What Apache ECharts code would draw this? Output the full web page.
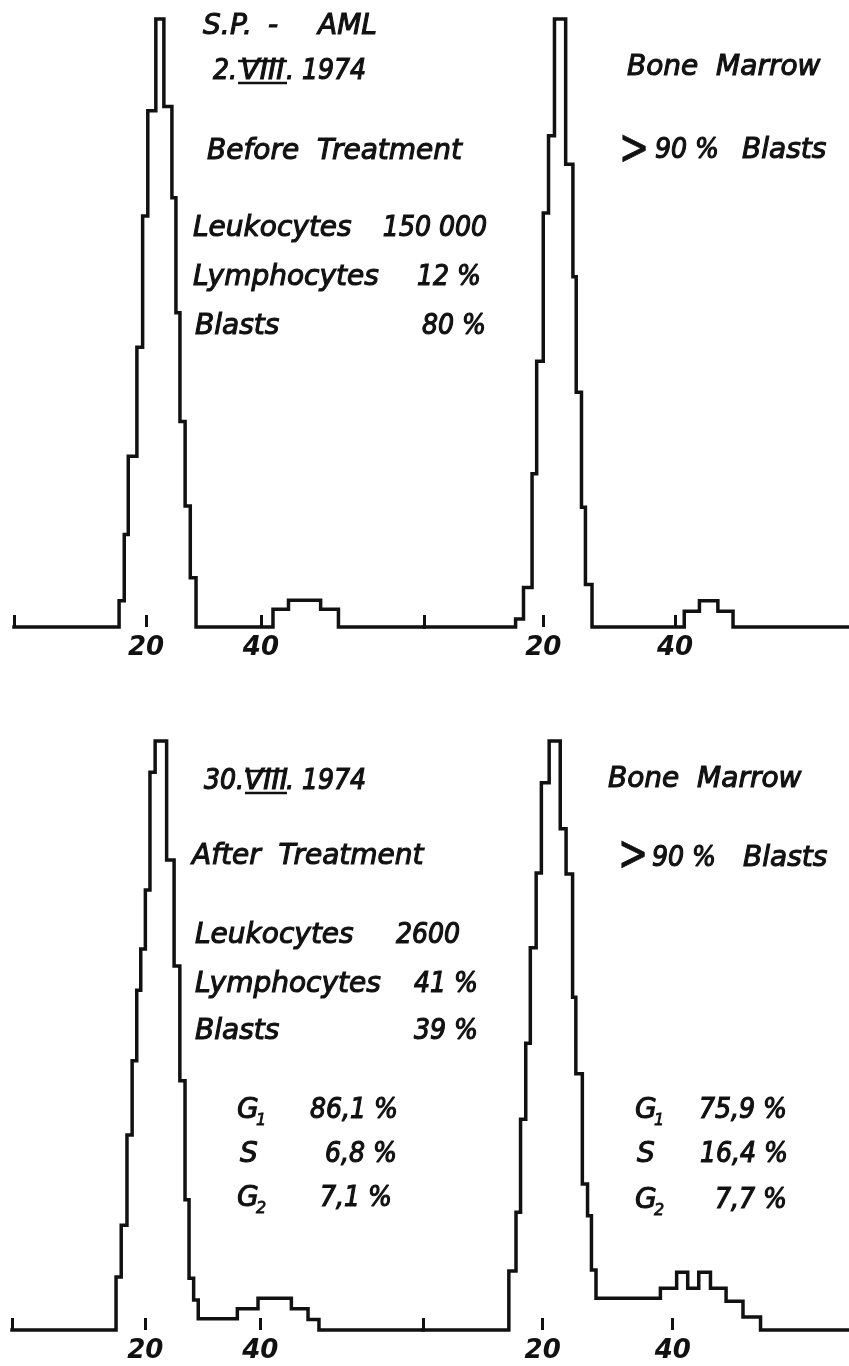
<!DOCTYPE html>
<html>
<head>
<meta charset="utf-8">
<script src="https://cdn.jsdelivr.net/npm/echarts@6/dist/echarts.min.js"></script>
<style>
  html, body { margin: 0; padding: 0; background: #fff; }
  #chart { width: 849px; height: 1366px; }
</style>
</head>
<body>
<div id="chart"></div>
<script>
// DNA histograms, channel number on x, relative cell count (peak = 100) on y.
// each histogram: step edges (channel) and the count of the step that starts at that edge
const tickLabels = [20, 40];

// blood, before treatment (top left)
const bloodBeforeEdges = [-3, 15.3, 16.2, 16.9, 18.4, 19.4, 20.3, 21.7, 23.1, 24.5, 25.2, 25.9, 26.8, 27.7, 28.7, 42.1, 44.8, 50.4, 53.5, 68.4];
const bloodBeforeCounts = [0, 4.3, 15.2, 28.1, 46.0, 67.6, 84.9, 100, 85.6, 70.6, 51.7, 33.8, 19.9, 8.1, 0, 2.9, 4.4, 2.9, 0];

// bone marrow, before treatment (top right)
const marrowBeforeEdges = [1.9, 15.8, 17.0, 18.3, 19.0, 20.0, 20.8, 21.7, 23.4, 24.5, 25.0, 25.8, 26.4, 27.4, 41.4, 43.7, 46.5, 48.8, 66.4];
const marrowBeforeCounts = [0, 1.3, 6.5, 25.2, 43.7, 68.1, 80.8, 100, 76.1, 57.6, 38.6, 19.7, 7.0, 0, 2.6, 4.3, 2.6, 0];

// blood, after treatment (bottom left)
const bloodAfterEdges = [-3.2, 14.9, 15.8, 16.8, 17.7, 18.5, 19.2, 20.0, 20.8, 21.7, 23.7, 25.0, 26.0, 26.9, 27.6, 28.4, 29.2, 36.0, 39.6, 45.4, 48.3, 50.2, 68.3];
const bloodAfterCounts = [0, 9.0, 17.8, 33.1, 45.7, 57.7, 64.7, 74.7, 94.7, 100, 79.8, 61.8, 42.3, 22.1, 8.8, 5.1, 1.9, 3.6, 5.4, 3.6, 1.8, 0];

// bone marrow, after treatment (bottom right)
const marrowAfterEdges = [1.6, 14.8, 15.9, 16.6, 17.4, 18.1, 19.0, 19.8, 21.0, 22.7, 23.6, 24.6, 25.1, 26.1, 26.9, 27.5, 28.2, 38.1, 40.6, 42.3, 44.0, 45.8, 48.2, 50.8, 53.5, 67.1];
const marrowAfterCounts = [0, 10.0, 20.0, 35.8, 48.7, 64.9, 77.6, 92.9, 100, 85.1, 77.4, 56.5, 43.5, 24.8, 19.4, 10.2, 5.4, 7.1, 9.8, 7.1, 9.8, 7.1, 4.9, 2.2, 0];

const INK = '#111';
const WORD_FONT = 'italic 28px "DejaVu Sans", sans-serif';
const NUM_FONT = 'italic 28px "DejaVu Sans Condensed", "DejaVu Sans", sans-serif';

const panels = [
  { edges: bloodBeforeEdges, counts: bloodBeforeCounts, left: 14, top: 19, width: 410, height: 608 },
  { edges: marrowBeforeEdges, counts: marrowBeforeCounts, left: 424, top: 19, width: 425, height: 608 },
  { edges: bloodAfterEdges, counts: bloodAfterCounts, left: 12, top: 741, width: 411, height: 589 },
  { edges: marrowAfterEdges, counts: marrowAfterCounts, left: 423, top: 741, width: 426, height: 589 },
];

function stepData(edges, counts) {
  const pts = counts.map((c, i) => [edges[i], c]);
  pts.push([edges[edges.length - 1], counts[counts.length - 1]]);
  return pts;
}

// annotations: [text, x, y, align, isNumber]
const notes = [
  ['S.', 203, 27, 'left'],
  ['P.', 230, 27, 'left'],
  ['-', 268, 27, 'left'],
  ['AML', 318, 27, 'left'],
  ['2.', 237, 72, 'right', 1],
  ['VIII', 262.5, 72, 'center'],
  ['. 1974', 286, 72, 'left', 1],
  ['Before  Treatment', 207, 152, 'left'],
  ['Leukocytes', 193, 229, 'left'],
  ['150 000', 487, 229, 'right', 1],
  ['Lymphocytes', 193, 278, 'left'],
  ['12 %', 481, 278, 'right', 1],
  ['Blasts', 195, 327, 'left'],
  ['80 %', 486, 327, 'right', 1],
  ['Bone  Marrow', 627, 68, 'left'],
  ['90 %', 655, 151, 'left', 1],
  ['Blasts', 742, 151, 'left'],

  ['30.', 244, 782, 'right', 1],
  ['VIII', 266, 782, 'center'],
  ['. 1974', 286, 782, 'left', 1],
  ['After  Treatment', 192, 857, 'left'],
  ['Leukocytes', 195, 936, 'left'],
  ['2600', 460, 936, 'right', 1],
  ['Lymphocytes', 195, 985, 'left'],
  ['41 %', 478, 985, 'right', 1],
  ['Blasts', 195, 1032, 'left'],
  ['39 %', 478, 1032, 'right', 1],
  ['G', 237, 1111, 'left'],
  ['86,1 %', 398, 1111, 'right', 1],
  ['S', 240, 1155, 'left'],
  ['6,8 %', 397, 1155, 'right', 1],
  ['G', 237, 1199, 'left'],
  ['7,1 %', 392, 1199, 'right', 1],
  ['Bone  Marrow', 608, 780, 'left'],
  ['90 %', 652, 859, 'left', 1],
  ['Blasts', 743, 859, 'left'],
  ['G', 635, 1111, 'left'],
  ['75,9 %', 787, 1111, 'right', 1],
  ['S', 637, 1155, 'left'],
  ['16,4 %', 788, 1155, 'right', 1],
  ['G', 635, 1201, 'left'],
  ['7,7 %', 787, 1201, 'right', 1],
];
const subs = [['1', 256, 1121], ['2', 256, 1209], ['1', 654, 1121], ['2', 654, 1211]];
const bigGt = [[619, 151], [618, 857]];
// bars over and under the roman month
const romanBars = [[238, 287, 61, 83], [245, 287, 771, 793]];

const graphic = [];
notes.forEach(([t, x, y, align, isNum]) => {
  graphic.push({
    type: 'text', x, y, silent: true,
    style: {
      text: t, fill: INK, stroke: INK, lineWidth: 1.1,
      font: isNum ? NUM_FONT : WORD_FONT, textAlign: align, textVerticalAlign: 'middle'
    }
  });
});
subs.forEach(([t, x, y]) => {
  graphic.push({
    type: 'text', x, y, silent: true,
    style: { text: t, fill: INK, stroke: INK, lineWidth: 0.8, font: 'italic 16px "DejaVu Sans", sans-serif', textVerticalAlign: 'middle' }
  });
});
// the big, narrow ">" sign
bigGt.forEach(([x, y]) => {
  graphic.push({
    type: 'text', x, y, silent: true, scaleX: 0.72,
    style: { text: '>', fill: INK, stroke: INK, lineWidth: 0.8, font: '50px "DejaVu Sans", sans-serif', textVerticalAlign: 'middle' }
  });
});
romanBars.forEach(([x1, x2, yt, yb]) => {
  [yt, yb].forEach(yy => graphic.push({
    type: 'line', silent: true,
    shape: { x1, y1: yy, x2, y2: yy },
    style: { stroke: INK, lineWidth: 2.5 }
  }));
});

const myChart = echarts.init(document.getElementById('chart'), null, { renderer: 'canvas' });

myChart.setOption({
  backgroundColor: '#fff',
  animation: false,
  grid: panels.map(p => ({ left: p.left, top: p.top, width: p.width, height: p.height, containLabel: false })),
  xAxis: panels.map((p, i) => ({
    gridIndex: i,
    type: 'value',
    min: p.edges[0],
    max: p.edges[p.edges.length - 1],
    axisLine: { show: false },
    splitLine: { show: false },
    axisTick: {
      show: true,
      inside: true,
      length: 12,
      customValues: [p.edges[0]].concat(tickLabels),
      lineStyle: { color: INK, width: 3 }
    },
    axisLabel: {
      customValues: tickLabels,
      margin: 8,
      color: INK,
      fontSize: 26,
      fontStyle: 'italic',
      fontWeight: 'bold',
      fontFamily: '"DejaVu Sans", sans-serif'
    }
  })),
  yAxis: panels.map((p, i) => ({
    gridIndex: i,
    type: 'value',
    min: 0,
    max: 100,
    show: false
  })),
  series: panels.map((p, i) => ({
    type: 'line',
    xAxisIndex: i,
    yAxisIndex: i,
    step: 'end',
    symbol: 'none',
    silent: true,
    clip: false,
    lineStyle: { color: INK, width: 3.5, join: 'miter', cap: 'square' },
    data: stepData(p.edges, p.counts)
  })),
  graphic
});
</script>
</body>
</html>
